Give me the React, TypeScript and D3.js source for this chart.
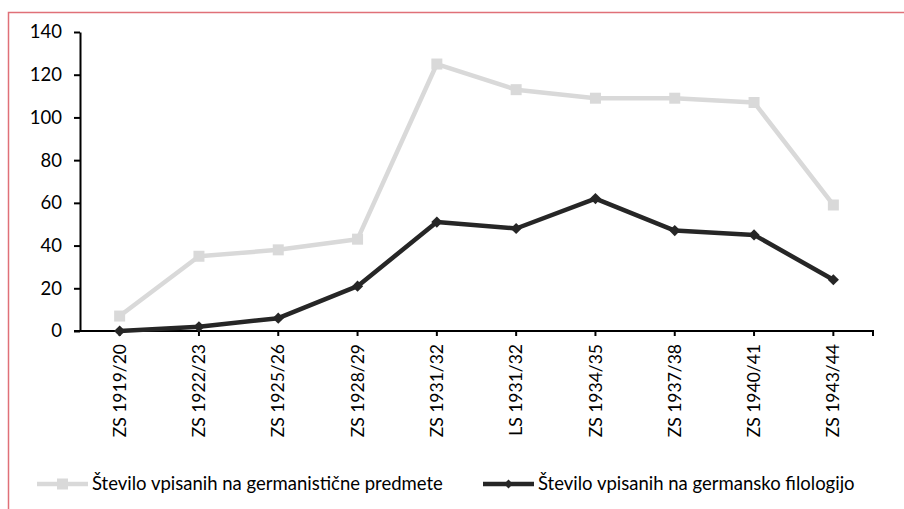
import * as d3 from "d3"
import { useEffect, useRef } from "react"

// semesters
const categories = ["ZS 1919/20", "ZS 1922/23", "ZS 1925/26", "ZS 1928/29", "ZS 1931/32", "LS 1931/32", "ZS 1934/35", "ZS 1937/38", "ZS 1940/41", "ZS 1943/44"]
// enrolled in german subjects
const germanSubjects = [7, 35, 38, 43, 125, 113, 109, 109, 107, 59]
// enrolled in german philology
const germanPhilology = [0, 2, 6, 21, 51, 48, 62, 47, 45, 24]
const yTicks = [0, 20, 40, 60, 80, 100, 120, 140]
const seriesNames = ["Število vpisanih na germanistične predmete", "Število vpisanih na germansko filologijo"]

const FONT = "Lato, 'Open Sans', sans-serif"
const LIGHT = "#D9D9D9"
const DARK = "#262626"

export default function App() {

	const chartRef = useRef<SVGSVGElement>(null)

	useEffect(() => {
		const svg = d3.select(chartRef.current)
		svg.selectAll('*').remove()
		DrawChart(svg)
	}, [])

	const margin = {top: 32, left: 80, right: 31, bottom: 178}
	const width = 904
	const height = 509

	const DrawChart = (svg: any) => {

		const graphBottom = height - margin.bottom
		const graphRight = width - margin.right

		// frame
		svg.append('rect')
			.attr('x', 8.5)
			.attr('y', 12.5)
			.attr('width', 1000)
			.attr('height', 1000)
			.attr('fill', 'none')
			.attr('stroke', '#E07078')
			.attr('stroke-width', 1.5)

		// scales
		const x_Scale = d3.scaleBand()
			.domain(categories)
			.range([margin.left, graphRight])

		const y_Scale = d3.scaleLinear()
			.domain([0, 140])
			.range([graphBottom, margin.top])

		const cx = (c: string) => x_Scale(c)! + x_Scale.bandwidth() / 2

		// Y axis
		const y_Axis = d3.axisLeft(y_Scale)
			.tickValues(yTicks)
			.tickSize(6)
			.tickSizeOuter(0)
			.tickPadding(12)

		const yG = svg.append('g')
			.attr('transform', `translate(${margin.left}, 0)`)
			.call(y_Axis)
		yG.selectAll('path, line').attr('stroke', '#000').attr('stroke-width', 2)
		yG.selectAll('text')
			.attr('font-family', FONT)
			.attr('font-size', '18.5px')
			.attr('fill', '#000')

		// X axis
		const x_Axis = d3.axisBottom(x_Scale)
			.tickSize(5)
			.tickSizeOuter(5)
			.tickFormat(() => '')

		const xG = svg.append('g')
			.attr('transform', `translate(0, ${graphBottom})`)
			.call(x_Axis)
		xG.selectAll('path, line').attr('stroke', '#000').attr('stroke-width', 2)
		xG.select('path').attr('d', `M${margin.left - 6},0H${graphRight}V5`)

		// rotated category labels
		svg.append('g')
			.selectAll('text')
			.data(categories)
			.enter()
			.append('text')
			.attr('transform', (d: string) => `translate(${cx(d)}, ${graphBottom + 13}) rotate(-90)`)
			.attr('text-anchor', 'end')
			.attr('dy', '0.35em')
			.attr('font-family', FONT)
			.attr('font-size', '17.5px')
			.attr('fill', '#000')
			.text((d: string) => d)

		// lines
		const line = d3.line<number>()
			.x((_, i) => cx(categories[i]))
			.y(d => y_Scale(d))

		svg.append('path')
			.datum(germanSubjects)
			.attr('d', line)
			.attr('fill', 'none')
			.attr('stroke', LIGHT)
			.attr('stroke-width', 4.5)
			.attr('stroke-linejoin', 'round')

		svg.append('g')
			.selectAll('rect')
			.data(germanSubjects)
			.enter()
			.append('rect')
			.attr('x', (_: number, i: number) => cx(categories[i]) - 5.5)
			.attr('y', (d: number) => y_Scale(d) - 5.5)
			.attr('width', 11)
			.attr('height', 11)
			.attr('fill', LIGHT)

		svg.append('path')
			.datum(germanPhilology)
			.attr('d', line)
			.attr('fill', 'none')
			.attr('stroke', DARK)
			.attr('stroke-width', 4.5)
			.attr('stroke-linejoin', 'round')

		const diamond = d3.symbol(d3.symbolDiamond2, 80)
		svg.append('g')
			.selectAll('path')
			.data(germanPhilology)
			.enter()
			.append('path')
			.attr('d', diamond)
			.attr('transform', (d: number, i: number) => `translate(${cx(categories[i])}, ${y_Scale(d)})`)
			.attr('fill', DARK)

		//legend
		const legendY = 484
		const legend = svg.append('g')
		const items = [
			{x: 37, color: LIGHT, name: seriesNames[0], square: true},
			{x: 483, color: DARK, name: seriesNames[1], square: false},
		]
		items.forEach(it => {
			legend.append('line')
				.attr('x1', it.x)
				.attr('x2', it.x + 51)
				.attr('y1', legendY)
				.attr('y2', legendY)
				.attr('stroke', it.color)
				.attr('stroke-width', 4.5)
			if (it.square) {
				legend.append('rect')
					.attr('x', it.x + 25.5 - 5.5)
					.attr('y', legendY - 5.5)
					.attr('width', 11)
					.attr('height', 11)
					.attr('fill', it.color)
			} else {
				legend.append('path')
					.attr('d', d3.symbol(d3.symbolDiamond2, 50)())
					.attr('transform', `translate(${it.x + 25.5}, ${legendY})`)
					.attr('fill', it.color)
			}
			legend.append('text')
				.attr('x', it.x + 55)
				.attr('y', legendY)
				.attr('dy', '0.35em')
				.attr('font-family', FONT)
				.attr('font-size', '18.5px')
				.attr('fill', '#000')
				.text(it.name)
		})
	}

	return <svg ref={chartRef} width={width} height={height} style={{position: 'absolute', left: 0, top: 0, background: '#fff'}} />
}
